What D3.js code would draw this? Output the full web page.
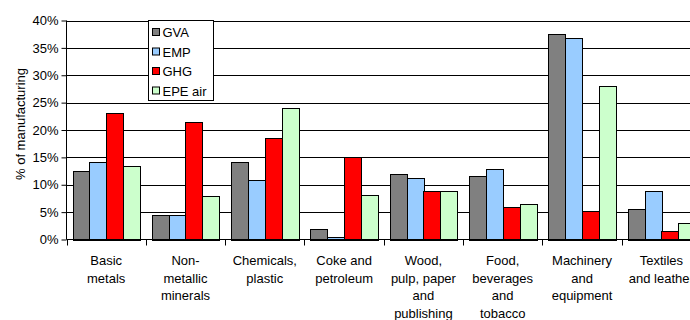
<!DOCTYPE html>
<html>
<head>
<meta charset="utf-8">
<script src="https://cdn.jsdelivr.net/npm/d3@7"></script>
<style>
  html, body { margin: 0; padding: 0; background: #fff; overflow: hidden; }
  svg { display: block; font-family: Arial, "Liberation Sans", sans-serif; }
</style>
</head>
<body>
<svg id="chart" width="690" height="320"></svg>
<script>
// sectors, in % of manufacturing
const categories = [
  ['Basic', 'metals'],
  ['Non-', 'metallic', 'minerals'],
  ['Chemicals,', 'plastic'],
  ['Coke and', 'petroleum'],
  ['Wood,', 'pulp, paper', 'and', 'publishing'],
  ['Food,', 'beverages', 'and', 'tobacco'],
  ['Machinery', 'and', 'equipment'],
  ['Textiles', 'and leather']
];
const seriesNames = ['GVA', 'EMP', 'GHG', 'EPE air'];
const gva    = [12.6, 4.5, 14.2, 2.0, 11.9, 11.6, 37.5, 5.5];
const emp    = [14.2, 4.5, 10.8, 0.5, 11.3, 12.8, 36.8, 8.9];
const ghg    = [23.1, 21.4, 18.6, 15.1, 8.9, 6.0, 5.2, 1.6];
const epeAir = [13.4, 7.9, 24.1, 8.2, 8.8, 6.4, 28.0, 3.1];
const yTicks = [0, 5, 10, 15, 20, 25, 30, 35, 40];
const colours = ['#808080', '#99ccff', '#ff0000', '#ccffcc'];

(() => {
  const series = [gva, emp, ghg, epeAir];
  const svg = d3.select('#chart');
  const pLeft = 66.5, pRight = 701, pTop = 20.5, pBottom = 239.5;
  const fs = 13;

  const x = d3.scaleBand().domain(d3.range(categories.length)).range([pLeft, pRight]).paddingInner(0).paddingOuter(0);
  const y = d3.scaleLinear().domain([0, 40]).range([pBottom, pTop]);
  const xs = d3.scaleBand().domain(d3.range(series.length)).range([0, x.bandwidth()]).paddingOuter(0.36).paddingInner(0);

  // gridlines
  svg.append('g').selectAll('line').data(yTicks.slice(1)).enter().append('line')
    .attr('x1', pLeft).attr('x2', pRight)
    .attr('y1', d => Math.round(y(d)) + 0.5).attr('y2', d => Math.round(y(d)) + 0.5)
    .attr('stroke', '#000').attr('stroke-width', 1);

  // bars
  const groups = svg.append('g').selectAll('g').data(series).enter().append('g')
    .attr('fill', (d, i) => colours[i]);
  groups.each(function(vals, si) {
    d3.select(this).selectAll('rect').data(vals).enter().append('rect')
      .attr('x', (d, ci) => Math.round(x(ci) + xs(si)) + 0.5)
      .attr('y', d => Math.round(y(d)) + 0.5)
      .attr('width', Math.round(xs.bandwidth()))
      .attr('height', d => Math.max(0, Math.round(pBottom) - Math.round(y(d))))
      .attr('stroke', '#000').attr('stroke-width', 1);
  });

  // y axis
  const yAxis = d3.axisLeft(y).tickValues(yTicks).tickSize(5).tickFormat(d => d + '%');
  const gy = svg.append('g').attr('transform', `translate(${pLeft},0)`).call(yAxis);
  gy.select('.domain').attr('stroke', '#000').attr('d', `M0,${pTop}V${pBottom}`);
  gy.selectAll('.tick line').attr('stroke', '#000');
  gy.selectAll('.tick text').attr('x', -8).attr('font-size', fs).attr('fill', '#000')
    .attr('font-family', 'Arial, "Liberation Sans", sans-serif');

  // x axis baseline + boundary ticks
  svg.append('line').attr('x1', pLeft).attr('x2', pRight).attr('y1', pBottom).attr('y2', pBottom).attr('stroke', '#000');
  svg.append('g').selectAll('line').data(d3.range(categories.length + 1)).enter().append('line')
    .attr('x1', d => Math.round(pLeft + d * x.bandwidth()) + 0.5)
    .attr('x2', d => Math.round(pLeft + d * x.bandwidth()) + 0.5)
    .attr('y1', pBottom).attr('y2', pBottom + 6).attr('stroke', '#000');

  // category labels
  const lbl = svg.append('g').selectAll('text').data(categories).enter().append('text')
    .attr('text-anchor', 'middle').attr('font-size', fs).attr('fill', '#000');
  lbl.each(function(lines, ci) {
    d3.select(this).selectAll('tspan').data(lines).enter().append('tspan')
      .attr('x', x(ci) + x.bandwidth() / 2)
      .attr('y', (d, i) => 265 + i * 17.5)
      .text(d => d);
  });

  // y title
  svg.append('text').attr('transform', 'translate(25,124) rotate(-90)')
    .attr('text-anchor', 'middle').attr('font-size', fs).attr('fill', '#000')
    .text('% of manufacturing');

  // legend
  const lg = svg.append('g').attr('transform', 'translate(148.5,20.5)');
  lg.append('rect').attr('width', 65).attr('height', 80).attr('fill', '#fff').attr('stroke', '#000');
  const items = lg.selectAll('g').data(seriesNames).enter().append('g')
    .attr('transform', (d, i) => `translate(4,${8 + i * 19.5})`);
  items.append('rect').attr('width', 7).attr('height', 7).attr('fill', (d, i) => colours[i]).attr('stroke', '#000');
  items.append('text').attr('x', 10).attr('y', 8.5).attr('font-size', fs).attr('fill', '#000').text(d => d);
})();
</script>
</body>
</html>
